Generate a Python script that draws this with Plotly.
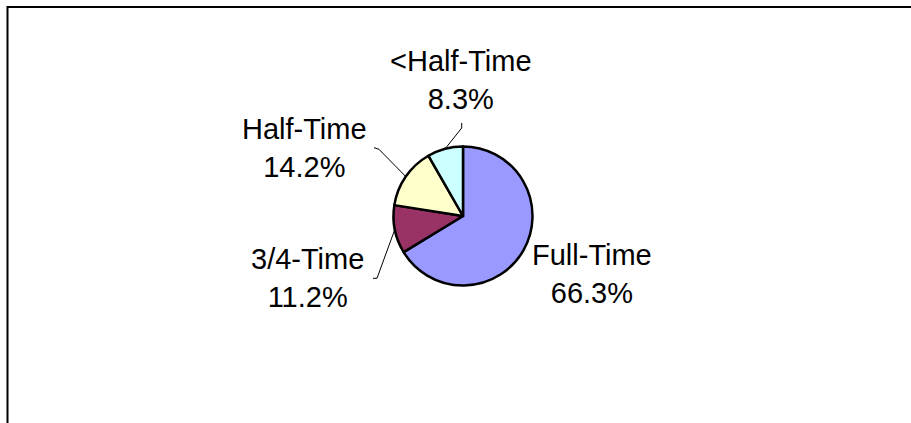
import math
import plotly.graph_objects as go

# ---- data ----
categories = ["Full-Time", "3/4-Time", "Half-Time", "<Half-Time"]
values = [66.3, 11.2, 14.2, 8.3]
colors = ["#9999FF", "#993366", "#FFFFCC", "#CCFFFF"]

W, H = 911, 423
CX, CY, R = 463, 216, 69.5

# label centres (pixels) and leader-line start points (pixels), None = no leader
label_pos = [(592, 274), (307, 278), (304, 148), (461, 80)]
leader_start = [None, [(373, 278.3), (377, 278.3)], [(374, 147.7), (379, 149.3)], [(461.7, 123), (461.7, 128)]]

def px(x):
    return x / W

def py(y):
    return 1 - y / H

fig = go.Figure(go.Pie(
    labels=categories,
    values=values,
    sort=False,
    direction="clockwise",
    rotation=0,
    marker=dict(colors=colors, line=dict(color="#000000", width=2.5)),
    textinfo="none",
    hoverinfo="label+percent",
    domain=dict(x=[px(CX - R), px(CX + R)], y=[py(CY + R), py(CY - R)]),
    showlegend=False,
))

total = sum(values)
cum = 0
shapes = []
annotations = []
for i, (cat, v) in enumerate(zip(categories, values)):
    mid = (cum + v / 2) / total * 360
    cum += v
    ex = CX + R * math.sin(math.radians(mid))
    ey = CY - R * math.cos(math.radians(mid))
    lx, ly = label_pos[i]
    annotations.append(dict(
        x=px(lx), y=py(ly), xref="paper", yref="paper",
        text=f"{cat}<br>{v / total * 100:.1f}%",
        showarrow=False, xanchor="center", yanchor="middle", align="center",
        font=dict(family="Liberation Sans, Arial, sans-serif", size=29, color="#000000"),
    ))
    if leader_start[i]:
        pts = leader_start[i] + [(ex, ey)]
        path = "M " + " L ".join(f"{px(a):.5f},{py(b):.5f}" for a, b in pts)
        shapes.append(dict(type="path", path=path, xref="paper", yref="paper",
                           line=dict(color="#000000", width=1)))

# outer chart border (extends beyond the visible window on the right and bottom)
shapes.append(dict(type="rect", xref="paper", yref="paper",
                   x0=px(7.5), y0=-0.1, x1=1.1, y1=py(7),
                   line=dict(color="#000000", width=2), fillcolor="rgba(0,0,0,0)"))

fig.update_layout(
    width=W, height=H,
    margin=dict(l=0, r=0, t=0, b=0),
    paper_bgcolor="#FFFFFF",
    plot_bgcolor="#FFFFFF",
    shapes=shapes,
    annotations=annotations,
)

fig.write_html(
    "out.html",
    config={"displayModeBar": False},
    post_script="document.body.style.margin='0';document.body.style.overflow='hidden';",
)
